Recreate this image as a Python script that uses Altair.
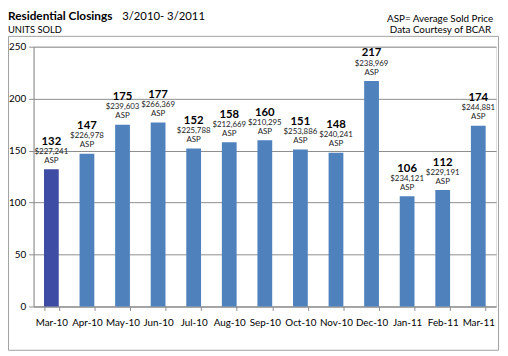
import altair as alt
import pandas as pd

months = ["Mar-10", "Apr-10", "May-10", "Jun-10", "Jul-10", "Aug-10", "Sep-10",
          "Oct-10", "Nov-10", "Dec-10", "Jan-11", "Feb-11", "Mar-11"]
units = [132, 147, 175, 177, 152, 158, 160, 151, 148, 217, 106, 112, 174]
asp = ["$227,241", "$226,978", "$239,603", "$266,369", "$225,788", "$212,669",
       "$210,295", "$253,886", "$240,241", "$238,969", "$234,121", "$229,191",
       "$244,881"]
highlight = [True] + [False] * 12
y_ticks = [0, 50, 100, 150, 200, 250]

title_main = "Residential Closings"
title_range = "3/2010- 3/2011"
y_title = "UNITS SOLD"
note_lines = ["ASP= Average Sold Price", "Data Courtesy of BCAR"]

FONT = "Lato"
GRID = "#8C8C8C"

df = pd.DataFrame({"month": months, "units": units, "asp": asp, "current": highlight})

x = alt.X("month:N", sort=months,
          scale=alt.Scale(paddingInner=0.585, paddingOuter=0.2925),
          axis=alt.Axis(title=None, labelAngle=0, tickBand="extent",
                        tickSize=4, tickColor=GRID, domainColor=GRID,
                        labelFontSize=10, labelColor="#000000",
                        labelPadding=7, labelFont=FONT))
y = alt.Y("units:Q", scale=alt.Scale(domain=[0, 250], nice=False),
          axis=alt.Axis(title=None, values=y_ticks, grid=True, gridColor=GRID,
                        tickColor=GRID, domainColor=GRID, tickSize=5,
                        labelFontSize=10, labelColor="#000000",
                        labelPadding=3, labelFont=FONT))

base = alt.Chart(df)

bars = base.mark_bar().encode(
    x=x, y=y,
    color=alt.Color("current:N", scale=alt.Scale(domain=[True, False],
                                                  range=["#3F4CA3", "#4F81BD"]),
                    legend=None))

count_lbl = base.mark_text(baseline="middle", dy=-28, fontWeight="bold",
                           fontSize=11.5, font=FONT, color="#000000").encode(
    x=x, y=y, text="units:Q")
price_lbl = base.mark_text(baseline="middle", dy=-17.5, fontSize=8,
                           font=FONT, color="#222222").encode(
    x=x, y=y, text="asp:N")
asp_lbl = base.mark_text(baseline="middle", dy=-8.5, fontSize=8,
                         font=FONT, color="#222222").encode(
    x=x, y=y, text=alt.value("ASP"))

one = pd.DataFrame({"k": [0]})
frame = alt.Chart(one).mark_rect(fill=None, stroke="#A0A0A0", strokeWidth=1).encode(
    x=alt.value(-25.5), x2=alt.value(472.5), y=alt.value(-10.5), y2=alt.value(308.5))


def header(text, xpos, ypos, size, weight="normal", align="left"):
    return alt.Chart(pd.DataFrame({"t": [text]})).mark_text(
        align=align, baseline="alphabetic", fontSize=size, fontWeight=weight,
        font=FONT, color="#000000").encode(
        x=alt.value(xpos), y=alt.value(ypos), text="t:N")


h1 = header(title_main, -26, -27, 12, "bold")
h2 = header(title_range, 90, -27, 11.5)
h3 = header(y_title, -26, -14, 9.5)
h4 = header(note_lines[0], 467, -25, 10, align="right")
h5 = header(note_lines[1], 465, -13.5, 10, align="right")

chart = alt.layer(frame, bars, count_lbl, price_lbl, asp_lbl, h1, h2, h3, h4, h5).properties(
    width=470, height=264,
    autosize=alt.AutoSizeParams(type="none"),
    padding={"left": 26, "top": 36.5, "right": 4, "bottom": 48},
).configure_view(stroke=None).configure(background="white")

chart.save("out.html", embed_options={"renderer": "svg", "actions": False})
